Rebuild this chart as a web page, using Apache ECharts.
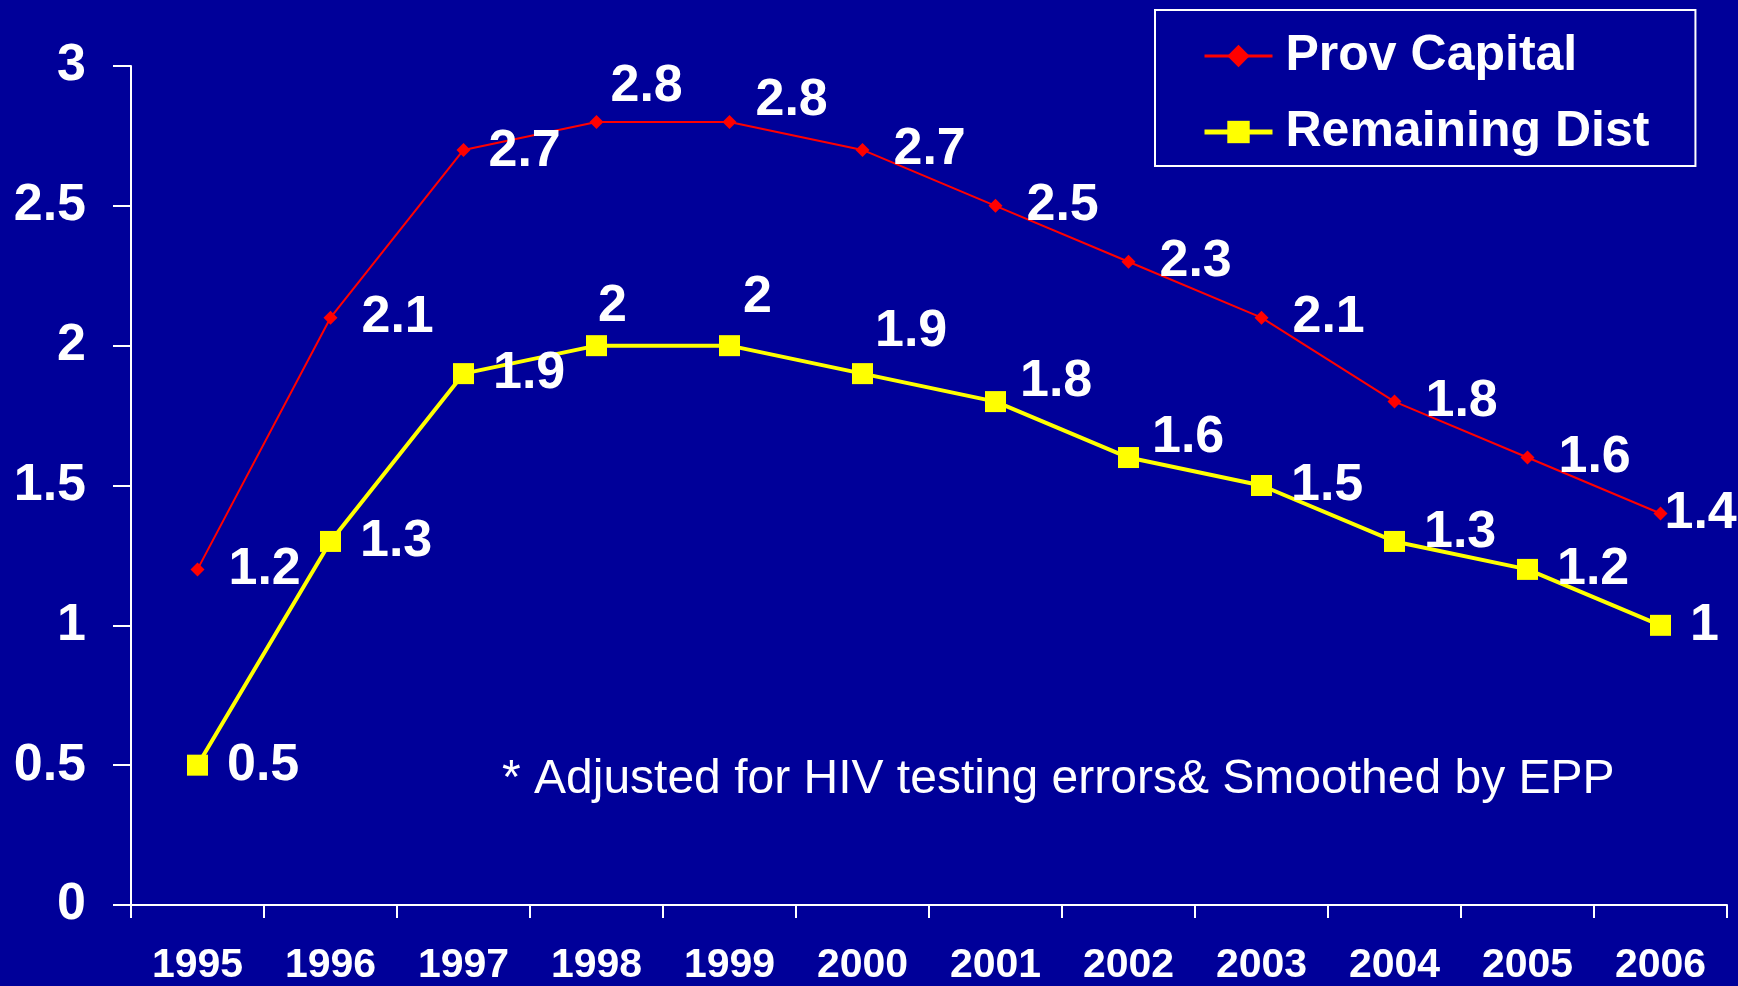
<!DOCTYPE html>
<html>
<head>
<meta charset="utf-8">
<script src="https://cdn.jsdelivr.net/npm/echarts@6/dist/echarts.min.js"></script>
<style>
html,body{margin:0;padding:0;background:#000099;}
#chart{width:1738px;height:986px;}
</style>
</head>
<body>
<div id="chart"></div>
<script>
var categories = ['1995','1996','1997','1998','1999','2000','2001','2002','2003','2004','2005','2006'];
var provCapital = [1.2, 2.1, 2.7, 2.8, 2.8, 2.7, 2.5, 2.3, 2.1, 1.8, 1.6, 1.4];
var remainingDist = [0.5, 1.3, 1.9, 2, 2, 1.9, 1.8, 1.6, 1.5, 1.3, 1.2, 1];
var seriesNames = ['Prov Capital', 'Remaining Dist'];
var footnote = '* Adjusted for HIV testing errors& Smoothed by EPP';

// label nudges (layout only), [dx, dy] in px
var provLabelShift = {2:[-6,2], 3:[-17,-35], 4:[-5,-21], 11:[-27,0]};
var remLabelShift = {3:[-28,-39], 4:[-16,-48], 5:[-17,-42], 6:[-5,-20], 7:[-6,-20], 9:[0,-9]};

function build(values, shifts){
  return values.map(function(v,i){
    var item = {value:v};
    if (shifts[i]) item.label = {offset: shifts[i]};
    return item;
  });
}

var FONT = '"Liberation Sans", Arial, sans-serif';
var chart = echarts.init(document.getElementById('chart'));
chart.setOption({
  backgroundColor:'#000099',
  animation:false,
  grid:{left:131, right:11, top:66, bottom:79, containLabel:false},
  legend:{
    left:1155, top:10, orient:'vertical',
    borderColor:'#ffffff', borderWidth:2,
    padding:[17,46,5,47],
    itemWidth:68, itemHeight:28, itemGap:18,
    textStyle:{color:'#ffffff', fontSize:50, fontWeight:'bold', fontFamily:FONT, lineHeight:58, padding:[0,0,0,8]},
    data:[
      {name:seriesNames[0], lineStyle:{width:3}},
      {name:seriesNames[1], lineStyle:{width:5}}
    ]
  },
  xAxis:{
    type:'category', data:categories, boundaryGap:true,
    axisLine:{lineStyle:{color:'#ffffff', width:2}},
    axisTick:{show:true, length:13, lineStyle:{color:'#ffffff', width:2}},
    axisLabel:{color:'#ffffff', fontSize:41, fontWeight:'bold', fontFamily:FONT, margin:40}
  },
  yAxis:{
    type:'value', min:0, max:3, interval:0.5,
    splitLine:{show:false},
    axisLine:{show:true, lineStyle:{color:'#ffffff', width:2}},
    axisTick:{show:true, length:18, lineStyle:{color:'#ffffff', width:2}},
    axisLabel:{color:'#ffffff', fontSize:52, fontWeight:'bold', fontFamily:FONT, margin:45}
  },
  graphic:[{
    type:'text', left:502, top:756,
    style:{text:footnote, fill:'#ffffff', font:'48px "Liberation Sans", Arial, sans-serif'}
  }],
  series:[
    {
      name:seriesNames[0], type:'line', data:build(provCapital, provLabelShift),
      symbol:'diamond', symbolSize:14, showAllSymbol:true,
      lineStyle:{color:'#ff0000', width:2},
      itemStyle:{color:'#ff0000'},
      label:{show:true, position:'right', distance:24, color:'#ffffff', fontSize:52, fontWeight:'bold', fontFamily:FONT},
      z:3
    },
    {
      name:seriesNames[1], type:'line', data:build(remainingDist, remLabelShift),
      symbol:'rect', symbolSize:21, showAllSymbol:true,
      lineStyle:{color:'#ffff00', width:4},
      itemStyle:{color:'#ffff00'},
      label:{show:true, position:'right', distance:19, color:'#ffffff', fontSize:52, fontWeight:'bold', fontFamily:FONT},
      z:2
    }
  ]
});
</script>
</body>
</html>
